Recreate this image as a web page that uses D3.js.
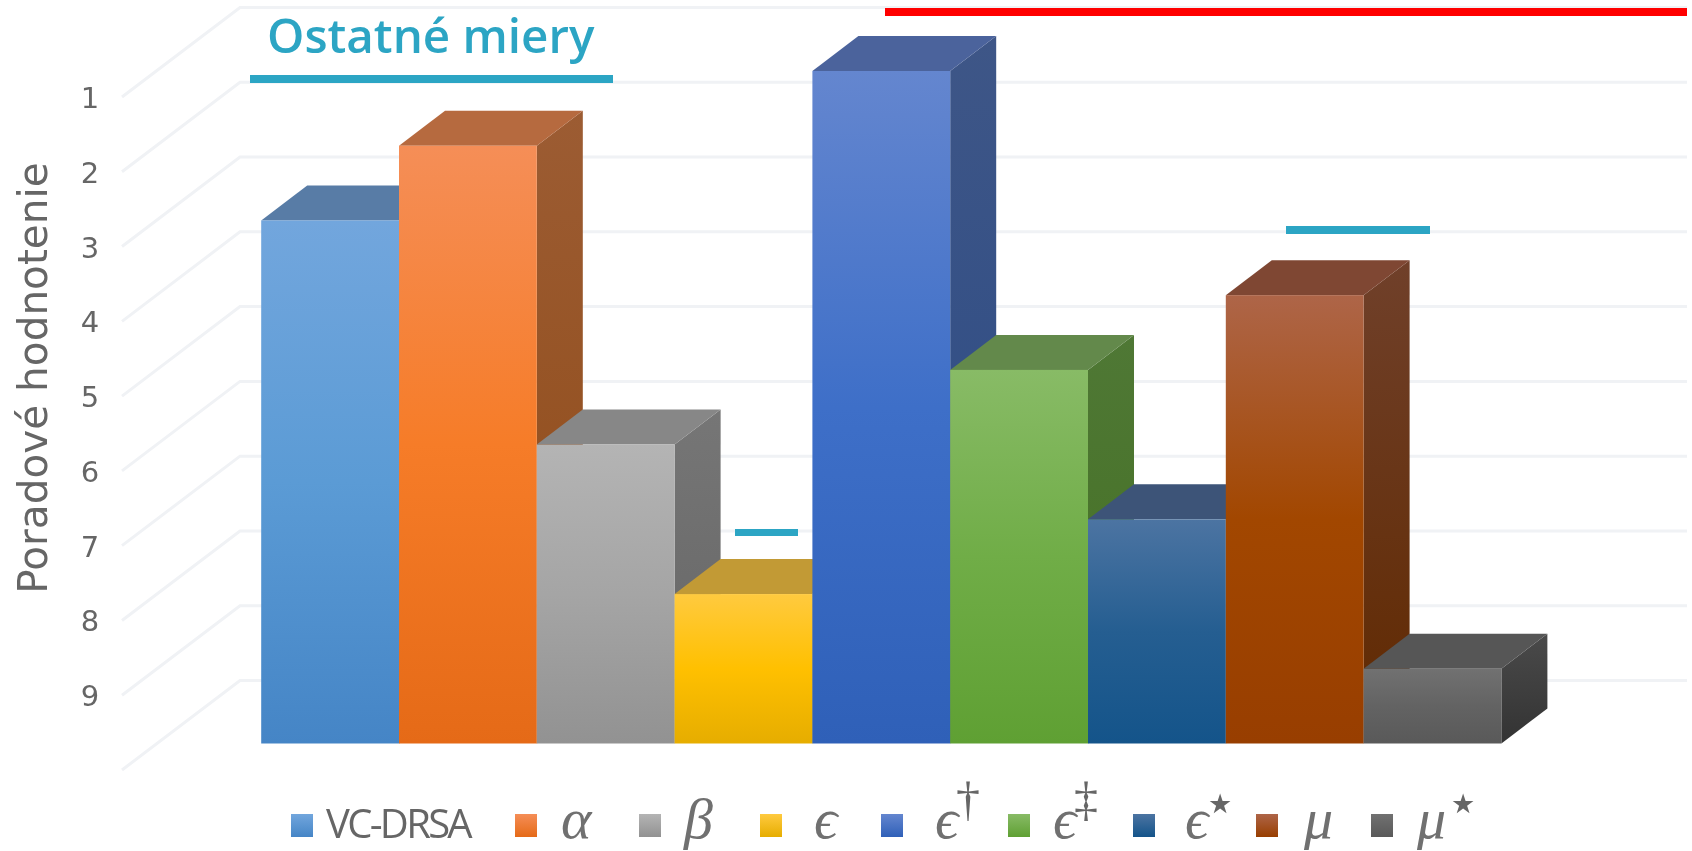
<!DOCTYPE html>
<html><head><meta charset="utf-8">
<style>html,body{margin:0;padding:0;background:#fff;overflow:hidden}svg{display:block;filter:blur(0.7px)}</style>
<script src="https://cdn.jsdelivr.net/npm/d3@7"></script></head>
<body><svg id="c" width="1692" height="851"></svg>
<script>
const categories = ["VC-DRSA","α","β","ϵ","ϵ†","ϵ‡","ϵ★","μ","μ★"];
const legendBase = ["VC-DRSA","α","β","ϵ","ϵ","ϵ","ϵ","μ","μ"];
const legendSup = ["","","","","†","‡","★","","★"];
const ranks = [3,2,6,8,1,5,7,4,9];
const rankTicks = [1,2,3,4,5,6,7,8,9];
const frontTop = ["#72a6dd","#f58e57","#b4b4b4","#ffca3f","#6486cf","#88bb66","#4c74a2","#ae6548","#717171"];
const frontMid = ["#5b9bd5","#f67c28","#a5a5a5","#ffc000","#3e6fc8","#70ad47","#255e91","#a24700","#636363"];
const frontBot = ["#4585c6","#e56a17","#929292","#e6ad00","#2f60b8","#5fa033","#14548a","#983e00","#595959"];
const topCol = ["#587ca6","#b66a3f","#878787","#c29a35","#4b639c","#63894b","#3d5478","#7f4733","#565656"];
const sideTop = ["#4a6f99","#9c5c33","#767676","#a8851e","#3e5687","#4f7835","#20436a","#70402a","#4a4a4a"];
const sideBot = ["#2f5f8f","#8f4a15","#646464","#a07d00","#2a4a85","#447022","#103a60","#602900","#333333"];
const legendLeft = [291,515,639,760,881,1008,1133,1256,1371];
const legendTextLeft = [326,561,684,814,935,1053,1185,1304,1417];
const legendSupMid = [0,0,0,0,968,1086,1220,0,1463];

const svg = d3.select("#c");
const defs = svg.append("defs");
const barX = d3.scaleBand().domain(categories).range([261.2, 261.2+9*137.8]).padding(0);
const y = d3.scaleLinear().domain([1,10]).range([71,743.5]);
const gridY = d3.scaleLinear().domain([1,10]).range([97,770]);
const dx=46, dy=35, gdx=118, gdy=89.5, rightEnd=1687;

// walls
const grid = svg.append("g").attr("fill","none").attr("stroke","#f0f2f5").attr("stroke-width",3);
[...rankTicks,10].forEach(t=>{
  const fy=gridY(t);
  grid.append("path").attr("d",`M122,${fy}L${122+gdx},${fy-gdy}L${rightEnd},${fy-gdy}`);
});
// ticks
svg.append("g").attr("font-family","'DejaVu Sans',sans-serif").attr("font-size",29).attr("fill","#666").attr("text-anchor","middle")
 .selectAll("text").data(rankTicks).join("text").attr("x",90).attr("y",d=>gridY(d)+11).text(d=>d);
svg.append("text").attr("transform","translate(47,378) rotate(-90)").attr("text-anchor","middle")
 .attr("font-family","'DejaVu Sans',sans-serif").attr("font-size",40.6).attr("fill","#666").text("Poradové hodnotenie");

// bars
categories.forEach((c,i)=>{
  const g=defs.append("linearGradient").attr("id","f"+i).attr("x1",0).attr("x2",0).attr("y1",0).attr("y2",1);
  g.append("stop").attr("offset","0").attr("stop-color",frontTop[i]);
  g.append("stop").attr("offset","0.5").attr("stop-color",frontMid[i]);
  g.append("stop").attr("offset","1").attr("stop-color",frontBot[i]);
  const s=defs.append("linearGradient").attr("id","s"+i).attr("x1",0).attr("x2",0).attr("y1",0).attr("y2",1);
  s.append("stop").attr("offset","0").attr("stop-color",sideTop[i]);
  s.append("stop").attr("offset","1").attr("stop-color",sideBot[i]);
  const x=barX(c), w=barX.bandwidth(), t=y(ranks[i]), b=y(10);
  const bar=svg.append("g").attr("class","bar");
  bar.append("path").attr("fill",`url(#s${i})`).attr("d",`M${x+w},${t}L${x+w+dx},${t-dy}L${x+w+dx},${b-dy}L${x+w},${b}Z`);
  bar.append("path").attr("fill",topCol[i]).attr("d",`M${x},${t}L${x+dx},${t-dy}L${x+w+dx},${t-dy}L${x+w},${t}Z`);
  bar.append("rect").attr("x",x).attr("y",t).attr("width",w).attr("height",b-t).attr("fill",`url(#f${i})`);
});

// legend
categories.forEach((c,i)=>{
  const g=defs.append("linearGradient").attr("id","l"+i).attr("x1",0).attr("x2",0).attr("y1",0).attr("y2",1);
  g.append("stop").attr("offset","0").attr("stop-color",frontTop[i]);
  g.append("stop").attr("offset","1").attr("stop-color",frontBot[i]);
  svg.append("rect").attr("x",legendLeft[i]).attr("y",814).attr("width",22).attr("height",23).attr("fill",`url(#l${i})`);
  const isName=i===0;
  svg.append("text").attr("x",legendTextLeft[i]).attr("y",838)
    .attr("font-family",isName?"'Open Sans',sans-serif":"'Liberation Serif',serif")
    .attr("font-style",isName?"normal":"italic")
    .attr("font-size",isName?40:58)
    .attr("letter-spacing",isName?-2.7:0)
    .attr("fill",isName?"#666":"#707070").text(legendBase[i]);
  if(legendSup[i]) svg.append("text").attr("x",legendSupMid[i]).attr("y",legendSup[i]==="★"?813:815)
    .attr("text-anchor","middle")
    .attr("font-family",legendSup[i]==="★"?"'DejaVu Sans',sans-serif":"'Liberation Serif',serif")
    .attr("font-size",legendSup[i]==="★"?27:48)
    .attr("fill","#666").text(legendSup[i]);
});

// annotations
const teal="#2ca5c4";
svg.append("text").attr("x",267).attr("y",53).attr("font-family","'Open Sans',sans-serif").attr("font-weight",600)
  .attr("font-size",47.5).attr("fill",teal).text("Ostatné miery");
svg.append("rect").attr("x",250).attr("y",75).attr("width",363).attr("height",8).attr("fill",teal);
svg.append("rect").attr("x",735).attr("y",529).attr("width",63).attr("height",7).attr("fill",teal);
svg.append("rect").attr("x",1286).attr("y",226).attr("width",144).attr("height",8).attr("fill",teal);
svg.append("rect").attr("x",885).attr("y",8).attr("width",802).attr("height",8).attr("fill","#ff0000");
</script></body></html>
